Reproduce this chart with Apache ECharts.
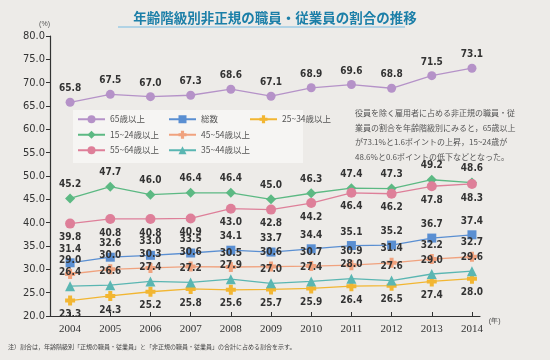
<!DOCTYPE html>
<html><head><meta charset="utf-8">
<script src="https://cdn.jsdelivr.net/npm/echarts@6/dist/echarts.min.js"></script>
<style>html,body{margin:0;padding:0;background:#edebe8;}#c{width:550px;height:360px;}</style>
</head><body><div id="c"></div>
<script>
const years = [2004,2005,2006,2007,2008,2009,2010,2011,2012,2013,2014];
const yTicks = [20,80,5];
const s65 = [65.8,67.5,67.0,67.3,68.6,67.1,68.9,69.6,68.8,71.5,73.1];
const s15 = [45.2,47.7,46.0,46.4,46.4,45.0,46.3,47.4,47.3,49.2,48.6];
const s55 = [39.8,40.8,40.8,40.9,43.0,42.8,44.2,46.4,46.2,47.8,48.3];
const sTotal = [31.4,32.6,33.0,33.5,34.1,33.7,34.4,35.1,35.2,36.7,37.4];
const s45 = [29.0,30.0,30.3,30.6,30.5,30.6,30.7,30.9,31.4,32.2,32.7];
const s35 = [26.4,26.6,27.4,27.2,27.9,27.0,27.4,28.0,27.6,29.0,29.6];
const s25 = [23.3,24.3,25.2,25.8,25.6,25.7,25.9,26.4,26.5,27.4,28.0];

const plusPath = 'path://M3,0 L7,0 L7,3 L10,3 L10,7 L7,7 L7,10 L3,10 L3,7 L0,7 L0,3 L3,3 Z';

const labelFont = '"Liberation Sans Narrow","DejaVu Sans Condensed","Liberation Sans",sans-serif';
function mk(name, data, color, symbol, size, pos){
  return {
    name, type:'line', data: years.map((y,i)=>[y,data[i]]),
    symbol, symbolSize:size,
    itemStyle:{color}, lineStyle:{color, width:1.3},
    label:{show:true, position:pos, distance:4, color:'#333', fontSize:10, fontWeight:'bold', fontFamily:labelFont,
      formatter:p=>p.value[1].toFixed(1)},
    z: 3
  };
}
const chart = echarts.init(document.getElementById('c'));
const legendText = {fontSize:8.5, color:'#555', fontFamily:'"Noto Sans CJK JP",sans-serif'};
const legBase = {orient:'vertical', itemWidth:27, itemHeight:10, itemGap:7, textStyle:legendText, top:115, padding:0};
chart.setOption({
  backgroundColor:'#edebe8',
  animation:false,
  title:{text:'年齢階級別非正規の職員・従業員の割合の推移', left:'center', top:6, textStyle:{fontSize:13.5, fontWeight:'bold', color:'#1c7fa8', fontFamily:'"Noto Sans CJK JP",sans-serif'}},
  grid:{left:50, right:70, top:36, bottom:44},
  legend:[
    Object.assign({left:77, data:['65歳以上','15~24歳以上','55~64歳以上']}, legBase),
    Object.assign({left:168, data:['総数','45~54歳以上','35~44歳以上']}, legBase),
    Object.assign({left:249, data:['25~34歳以上']}, legBase)
  ],
  xAxis:{type:'value', min:2003.5, max:2014.2,
    axisLine:{lineStyle:{color:'#333', width:1.2}},
    axisTick:{customValues:years, inside:true, length:4, lineStyle:{color:'#333'}},
    axisLabel:{customValues:years, formatter:v=>String(v), color:'#333', fontSize:11, fontFamily:'"Liberation Serif",serif', margin:8},
    splitLine:{show:false},
    name:'(年)', nameLocation:'end', nameGap:6, nameTextStyle:{fontSize:7, color:'#444', verticalAlign:'top', padding:[2,0,0,0]}
  },
  yAxis:{type:'value', min:yTicks[0], max:yTicks[1], interval:yTicks[2],
    axisLine:{show:true, lineStyle:{color:'#333', width:1.2}},
    axisTick:{show:true, length:4, lineStyle:{color:'#333'}},
    axisLabel:{color:'#333', fontSize:11, fontFamily:labelFont, formatter:v=>v.toFixed(1), margin:5},
    splitLine:{show:false},
    name:'(%)', nameLocation:'end', nameGap:8, nameTextStyle:{fontSize:7, color:'#555', align:'right', padding:[0,0,0,0]}
  },
  series:[
    mk('65歳以上', s65, '#b592c8', 'circle', 9, 'top'),
    mk('総数', sTotal, '#5a8fd2', 'rect', 9, 'top'),
    mk('25~34歳以上', s25, '#f2b632', plusPath, 10, 'bottom'),
    mk('15~24歳以上', s15, '#5cb983', 'diamond', 10, 'top'),
    mk('45~54歳以上', s45, '#f0a27e', plusPath, 10, 'top'),
    mk('55~64歳以上', s55, '#de7f99', 'circle', 10, 'bottom'),
    mk('35~44歳以上', s35, '#5ab6b2', 'triangle', 10, 'top')
  ],
  graphic:[
    {type:'line', shape:{x1:118,y1:27,x2:405,y2:27}, style:{stroke:'#9ccbe4', lineWidth:1.5}},
    {type:'rect', shape:{x:73,y:110,width:230,height:53}, style:{fill:'#f6f5f3'}, z:-1},
    {type:'text', left:355, top:106, style:{text:'役員を除く雇用者に占める非正規の職員・従\n業員の割合を年齢階級別にみると，65歳以上\nが73.1%と1.6ポイントの上昇，15~24歳が\n48.6%と0.6ポイントの低下などとなった。', fontSize:8, lineHeight:14.5, fill:'#555', fontFamily:'"Noto Sans CJK JP",sans-serif'}},
    {type:'text', left:8, top:344, style:{text:'注）割合は，年齢階級別「正規の職員・従業員」と「非正規の職員・従業員」の合計に占める割合を示す。', fontSize:6, fill:'#444', fontFamily:'"Noto Sans CJK JP",sans-serif'}}
  ]
});
</script></body></html>
